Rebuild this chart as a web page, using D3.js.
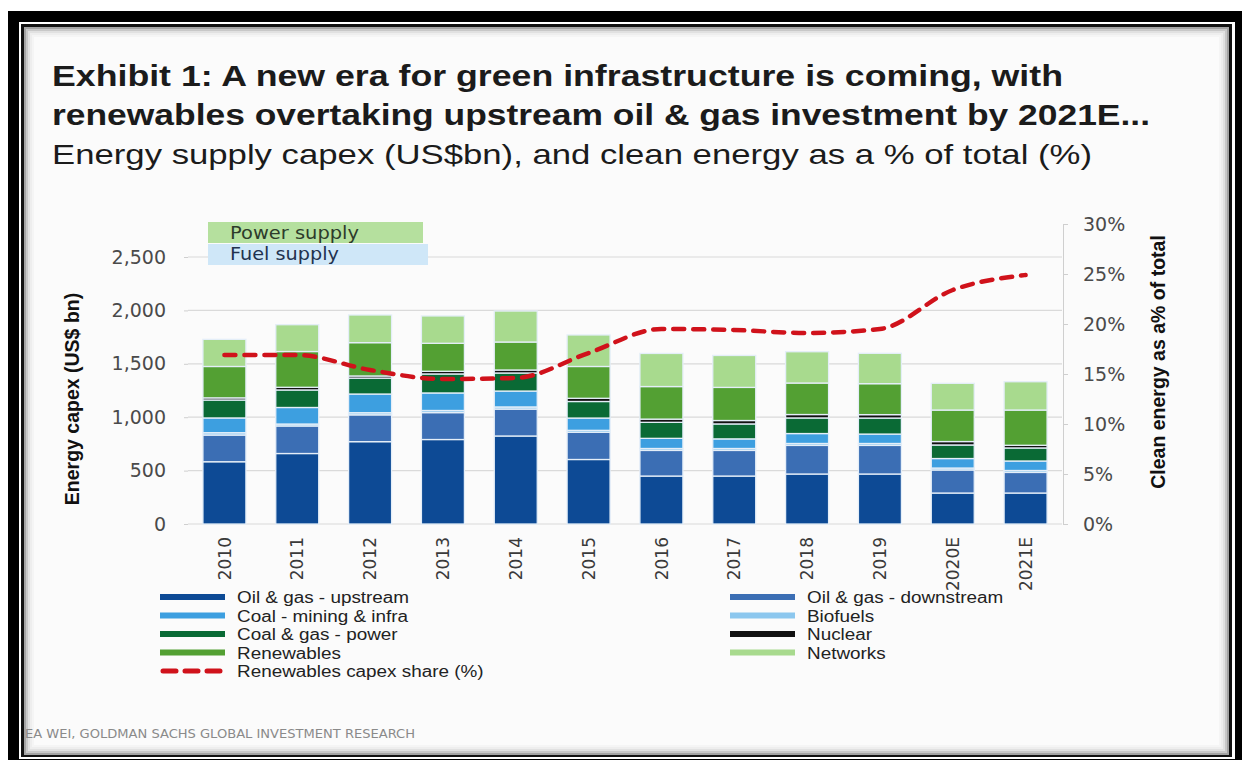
<!DOCTYPE html>
<meta charset="utf-8">
<style>
body{margin:0;background:#fff;}
text{font-family:"Liberation Sans",Arial,sans-serif;}
.axis text{font-family:"DejaVu Sans",sans-serif;font-size:19px;fill:#4a4a4a;}
.axis line, .axis path{stroke:#cfcfcf;}
.xaxis text{font-size:17px;fill:#3a3a3a;}
.grid line{stroke:#dadada;stroke-width:1.2px;}
.ytitle{font-weight:bold;font-size:19.5px;fill:#111;}
.legend text{font-size:16px;fill:#222;}
.title{font-weight:bold;font-size:30px;fill:#1b1b1b;}
.subtitle{font-size:28.5px;fill:#1b1b1b;}
</style>
<body>
<script src="https://d3js.org/d3.v7.min.js"></script>
<script>

var years=["2010","2011","2012","2013","2014","2015","2016","2017","2018","2019","2020E","2021E"];
var upstream  =[583,660,771,791,824,604,449,449,468,468,290,290];
var downstream=[250,258,251,252,252,255,240,240,268,268,216,193];
var biofuels  =[22,18,20,20,20,18,18,18,18,18,18,18];
var coalMining=[138,155,175,164,149,115,95,90,93,88,89,89];
var coalPower =[168,164,149,178,169,155,150,140,146,150,127,122];
var nuclear   =[20,25,20,25,28,30,30,32,32,32,32,25];
var renewables=[294,335,312,262,262,298,305,310,295,290,295,330];
var networks  =[254,251,259,256,290,295,310,299,293,284,250,265];
var share     =[16.9,16.9,15.4,14.5,14.6,17.1,19.5,19.4,19.1,19.5,23.4,24.9];

var leftTicks=[0,500,1000,1500,2000,2500];
var rightTicks=[0,5,10,15,20,25,30];

var keys=["upstream","downstream","biofuels","coalMining","coalPower","nuclear","renewables","networks"];
var labels=["Oil & gas - upstream","Oil & gas - downstream","Biofuels","Coal - mining & infra","Coal & gas - power","Nuclear","Renewables","Networks"];
var colors=["#0d4a95","#3b6eb4","#8cc7ee","#3d9fe0","#0a6a35","#111111","#53a033","#a8da8e"];
var series={upstream:upstream,downstream:downstream,biofuels:biofuels,coalMining:coalMining,
	coalPower:coalPower,nuclear:nuclear,renewables:renewables,networks:networks};

var rows=years.map(function(y,i){
	var r={year:y};
	keys.forEach(function(k){ r[k]=series[k][i]; });
	return r;
});
var color=d3.scaleOrdinal().domain(keys).range(colors);

var svg=d3.select("body").append("svg").attr("width",1242).attr("height",760);

// frame
svg.append("rect").attr("x",8).attr("y",11).attr("width",1234).attr("height",760).attr("fill","#000");
svg.append("rect").attr("x",19).attr("y",22).attr("width",1216).attr("height",737).attr("fill","#fff");
svg.append("rect").attr("x",21).attr("y",24).attr("width",1211).attr("height",733).attr("fill","#111");
svg.append("rect").attr("x",24).attr("y",27).attr("width",1205).attr("height",728).attr("fill","#fbfbfb");
[[0.35,1],[0.2,3],[0.1,5],[0.05,7],[0.025,9]].forEach(function(s){
	svg.append("rect").attr("x",24+s[1]).attr("y",27+s[1])
		.attr("width",1205-2*s[1]).attr("height",728-2*s[1])
		.attr("fill","none").attr("stroke","#000").attr("stroke-opacity",s[0]).attr("stroke-width",2);
});

// titles
svg.append("text").attr("class","title").attr("x",52).attr("y",86)
	.attr("textLength",1011).attr("lengthAdjust","spacingAndGlyphs")
	.text("Exhibit 1: A new era for green infrastructure is coming, with");
svg.append("text").attr("class","title").attr("x",52).attr("y",125)
	.attr("textLength",1098).attr("lengthAdjust","spacingAndGlyphs")
	.text("renewables overtaking upstream oil & gas investment by 2021E...");
svg.append("text").attr("class","subtitle").attr("x",52).attr("y",164)
	.attr("textLength",1040).attr("lengthAdjust","spacingAndGlyphs")
	.text("Energy supply capex (US$bn), and clean energy as a % of total (%)");

// scales
var x=d3.scaleBand().domain(years).range([188,1062]).paddingInner(0.41).paddingOuter(0.205);
var y=d3.scaleLinear().domain([0,2500]).range([524,257]);
var y2=d3.scaleLinear().domain([0,30]).range([524,224]);

// grid
svg.append("g").attr("class","grid").selectAll("line").data(leftTicks).join("line")
	.attr("x1",188).attr("x2",1062).attr("y1",d=>y(d)).attr("y2",d=>y(d));

// power / fuel supply labels
svg.append("rect").attr("x",208).attr("y",222).attr("width",215).attr("height",21).attr("fill","#b5e09e");
svg.append("rect").attr("x",208).attr("y",244).attr("width",220).attr("height",21).attr("fill","#cfe7f8");
svg.append("text").attr("x",230).attr("y",239).style("font-family","DejaVu Sans").style("font-size","17px")
	.attr("textLength",129).attr("lengthAdjust","spacingAndGlyphs")
	.attr("fill","#2d3b2b").text("Power supply");
svg.append("text").attr("x",230).attr("y",260).style("font-family","DejaVu Sans").style("font-size","17px")
	.attr("textLength",109).attr("lengthAdjust","spacingAndGlyphs")
	.attr("fill","#22324f").text("Fuel supply");

// bars
var stack=d3.stack().keys(keys)(rows);
svg.append("g").selectAll("g").data(stack).join("g")
	.attr("fill",d=>color(d.key))
	.selectAll("rect").data(d=>d).join("rect")
	.attr("x",d=>x(d.data.year))
	.attr("width",x.bandwidth())
	.attr("y",d=>y(d[1]))
	.attr("height",d=>y(d[0])-y(d[1]))
	.attr("stroke","#e4eef8").attr("stroke-width",1.3);

// axes
var gl=svg.append("g").attr("class","axis").attr("transform","translate(188,0)")
	.call(d3.axisLeft(y).tickValues(leftTicks).tickSize(4).tickPadding(18).tickFormat(d3.format(",")));
gl.select(".domain").remove();

svg.append("g").attr("class","axis").attr("transform","translate(1063,0)")
	.call(d3.axisRight(y2).tickValues(rightTicks).tickSize(5).tickPadding(15).tickFormat(d=>d+"%"));

var gx=svg.append("g").attr("class","axis xaxis").attr("transform","translate(0,524)")
	.call(d3.axisBottom(x).tickSize(0));
gx.select(".domain").remove();
gx.selectAll("text").attr("transform","rotate(-90)").attr("x",-13).attr("y",0)
	.attr("dy","0.36em").style("text-anchor","end");

svg.append("text").attr("class","ytitle").attr("transform","translate(79,399) rotate(-90)")
	.style("text-anchor","middle").text("Energy capex (US$ bn)");
svg.append("text").attr("class","ytitle").attr("transform","translate(1165,362) rotate(-90)")
	.style("text-anchor","middle").text("Clean energy as a% of total");

// share line
var line=d3.line().x((d,i)=>x(years[i])+x.bandwidth()/2).y(d=>y2(d)).curve(d3.curveMonotoneX);
svg.append("path").datum(share).attr("d",line)
	.attr("fill","none").attr("stroke","#d0121b").attr("stroke-width",4.5)
	.attr("stroke-dasharray","11,9").attr("stroke-linecap","round");

// legend
var legLeft=[["upstream",0],["coalMining",1],["coalPower",2],["renewables",3]];
var legRight=[["downstream",0],["biofuels",1],["nuclear",2],["networks",3]];
var lg=svg.append("g").attr("class","legend");
function widen(sel){
	sel.each(function(){
		var w=this.getComputedTextLength();
		d3.select(this).attr("textLength",w*1.18).attr("lengthAdjust","spacingAndGlyphs");
	});
}
function legendCol(items,x0){
	var g=lg.append("g").selectAll("g").data(items).join("g")
		.attr("transform",d=>"translate("+x0+","+(597+d[1]*18.5)+")");
	g.append("rect").attr("x",0).attr("y",-3).attr("width",65).attr("height",6).attr("fill",d=>color(d[0]));
	g.append("text").attr("x",77).attr("y",6).text(d=>labels[keys.indexOf(d[0])]).call(widen);
}
legendCol(legLeft,160);
legendCol(legRight,730);
var ls=lg.append("g").attr("transform","translate(160,671)");
ls.append("line").attr("x1",3).attr("x2",63).attr("stroke","#d0121b").attr("stroke-width",5)
	.attr("stroke-dasharray","13,9").attr("stroke-linecap","round");
ls.append("text").attr("x",77).attr("y",6).text("Renewables capex share (%)").call(widen);

// source
svg.append("text").attr("x",25).attr("y",738).style("font-family","DejaVu Sans").style("font-size","12px")
	.attr("fill","#8a8a8a").attr("textLength",390).attr("lengthAdjust","spacingAndGlyphs")
	.text("EA WEI, GOLDMAN SACHS GLOBAL INVESTMENT RESEARCH");
</script>
</body>
</html>
